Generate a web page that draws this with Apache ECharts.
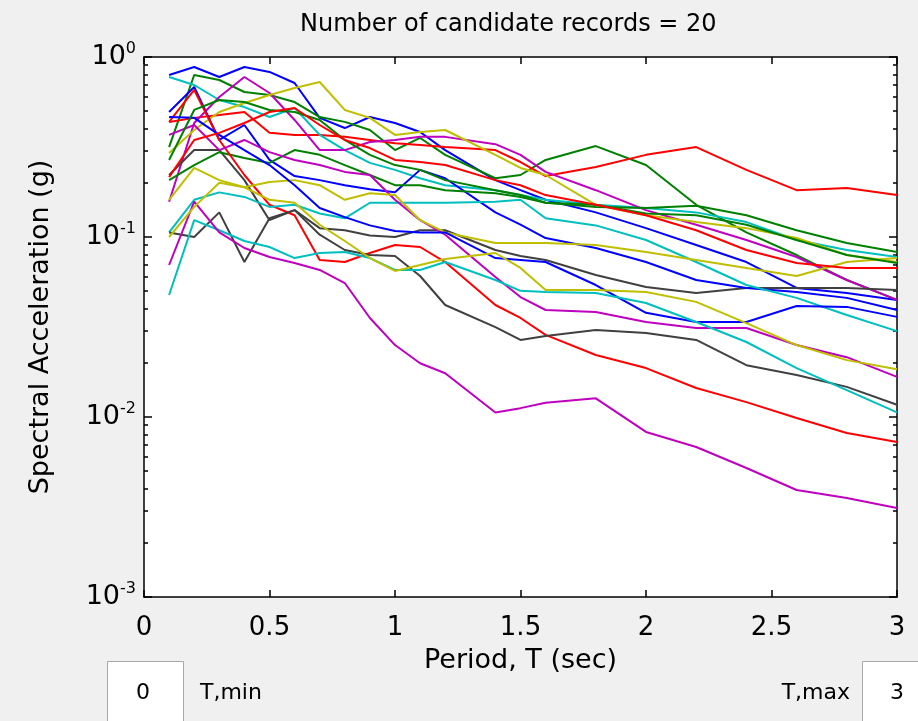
<!DOCTYPE html>
<html><head><meta charset="utf-8">
<script src="https://cdn.jsdelivr.net/npm/echarts@6/dist/echarts.min.js"></script>
<style>html,body{margin:0;padding:0;background:#f0f0f0;}#c{width:918px;height:721px;}</style>
</head><body><div id="c"></div>
<script>
// Periods (sec) at which each spectrum is sampled
const periods = [0.1,0.2,0.3,0.4,0.5,0.6,0.7,0.8,0.9,1.0,1.1,1.2,1.4,1.5,1.6,1.8,2.0,2.2,2.4,2.6,2.8,3.0];

// Spectral acceleration (g) of the 20 candidate records
const rec01 = [.794,.880,.774,.880,.826,.717,.459,.403,.464,.430,.383,.304,.207,.182,.161,.137,.112,.0903,.0726,.0521,.0488,.0447];
const rec02 = [.316,.794,.745,.639,.615,.562,.464,.436,.393,.304,.355,.286,.212,.221,.268,.320,.251,.151,.106,.0794,.0577,.0447];
const rec03 = [.436,.459,.476,.495,.379,.369,.369,.360,.346,.332,.324,.316,.304,.261,.218,.245,.286,.316,.236,.182,.187,.171];
const rec04 = [.774,.699,.577,.527,.464,.521,.369,.304,.258,.236,.212,.194,.182,.171,.161,.151,.145,.137,.121,.0962,.0847,.0774];
const rec05 = [.157,.430,.599,.774,.631,.447,.304,.304,.337,.346,.360,.360,.328,.286,.230,.182,.141,.117,.0962,.0774,.0577,.0447];
const rec06 = [.293,.393,.495,.555,.615,.673,.726,.508,.459,.369,.383,.393,.286,.242,.221,.151,.132,.121,.112,.0987,.0794,.0726];
const rec07 = [.221,.304,.304,.207,.124,.141,.112,.109,.102,.100,.109,.109,.0847,.0784,.0745,.0615,.0527,.0488,.0521,.0521,.0521,.0508];
const rec08 = [.495,.681,.346,.419,.268,.218,.207,.194,.184,.177,.236,.212,.137,.117,.0987,.0869,.0726,.0577,.0521,.0495,.0459,.0393];
const rec09 = [.207,.251,.296,.275,.258,.304,.286,.251,.221,.194,.194,.182,.175,.167,.155,.147,.145,.149,.132,.109,.0926,.0826];
const rec10 = [.436,.656,.346,.221,.151,.132,.0745,.0726,.0815,.0903,.0880,.0726,.0419,.0355,.0286,.0221,.0187,.0145,.0121,.00987,.00815,.00726];
const rec11 = [.106,.161,.177,.167,.147,.151,.135,.127,.155,.155,.155,.155,.157,.161,.127,.116,.0962,.0726,.0541,.0459,.0369,.0300];
const rec12 = [.369,.419,.304,.346,.296,.268,.251,.230,.221,.161,.124,.103,.0599,.0464,.0393,.0383,.0337,.0312,.0312,.0251,.0215,.0167];
const rec13 = [.161,.242,.207,.189,.202,.207,.194,.161,.175,.171,.124,.106,.0926,.0926,.0926,.0903,.0826,.0745,.0673,.0607,.0726,.0764];
const rec14 = [.106,.100,.137,.0726,.127,.141,.103,.0847,.0794,.0784,.0607,.0419,.0316,.0268,.0282,.0304,.0293,.0268,.0194,.0171,.0147,.0117];
const rec15 = [.464,.459,.369,.304,.251,.194,.145,.129,.116,.108,.106,.106,.0764,.0745,.0726,.0541,.0379,.0337,.0337,.0414,.0409,.0360];
const rec16 = [.268,.508,.577,.562,.508,.495,.447,.346,.286,.251,.236,.207,.182,.171,.155,.151,.135,.132,.117,.0962,.0794,.0717];
const rec17 = [.215,.346,.379,.430,.495,.521,.419,.346,.312,.268,.261,.251,.207,.194,.171,.151,.132,.109,.0847,.0717,.0673,.0673];
const rec18 = [.0476,.124,.109,.0950,.0880,.0764,.0815,.0826,.0764,.0656,.0656,.0726,.0577,.0502,.0495,.0488,.0430,.0337,.0261,.0187,.0141,.0106];
const rec19 = [.0699,.157,.106,.0869,.0774,.0717,.0656,.0555,.0355,.0251,.0199,.0175,.0106,.0112,.0120,.0127,.00826,.00681,.00521,.00393,.00355,.00312];
const rec20 = [.100,.147,.200,.189,.161,.155,.117,.0950,.0764,.0648,.0699,.0755,.0815,.0673,.0508,.0508,.0495,.0436,.0332,.0251,.0207,.0184];

const records = [rec01,rec02,rec03,rec04,rec05,rec06,rec07,rec08,rec09,rec10,rec11,rec12,rec13,rec14,rec15,rec16,rec17,rec18,rec19,rec20];

// MATLAB-style colour order b, g, r, c, m, y, k
const colorOrder = ['#0000ff','#008000','#ff0000','#00bfbf','#bf00bf','#bfbf00','#404040'];

// Axis ticks
const xTicks = [0, 0.5, 1, 1.5, 2, 2.5, 3];
const yMinorValues = [0.002,0.003,0.004,0.005,0.006,0.007,0.008,0.009,
                      0.02,0.03,0.04,0.05,0.06,0.07,0.08,0.09,
                      0.2,0.3,0.4,0.5,0.6,0.7,0.8,0.9];

const FONT = 'DejaVu Sans';
const chart = echarts.init(document.getElementById('c'), null, {renderer: 'canvas'});

const tickStyle = {color: '#000', width: 1.5};
const lineStyleAx = {color: '#000', width: 1.5};

const series = records.map((r, i) => ({
  type: 'line',
  xAxisIndex: 0, yAxisIndex: 0,
  data: periods.map((p, j) => [p, r[j]]),
  showSymbol: false,
  silent: true,
  animation: false,
  lineStyle: {color: colorOrder[i % colorOrder.length], width: 2},
  itemStyle: {color: colorOrder[i % colorOrder.length]},
  emphasis: {disabled: true}
}));

// minor-tick overlay axes work in exponent space, spanning the same -3..0 decades
const yMinorLog = yMinorValues.map(v => Math.log10(v));

chart.setOption({
  backgroundColor: '#f0f0f0',
  animation: false,
  title: {
    text: 'Number of candidate records = 20',
    left: 295, top: 8,
    textStyle: {fontFamily: FONT, fontSize: 24, fontWeight: 'normal', color: '#000'}
  },
  grid: {left: 144, right: 21, top: 57, bottom: 124, show: true, backgroundColor: '#fff', borderWidth: 0},
  xAxis: [
    {type: 'value', min: 0, max: 3, interval: 0.5, position: 'bottom',
     name: 'Period, T (sec)', nameLocation: 'middle', nameGap: 50,
     nameTextStyle: {fontFamily: FONT, fontSize: 27, color: '#000'},
     axisLine: {show: true, onZero: false, lineStyle: lineStyleAx},
     axisTick: {show: true, inside: true, length: 7, lineStyle: tickStyle},
     axisLabel: {show: true, fontFamily: FONT, fontSize: 26, color: '#000', margin: 18,
                 customValues: xTicks},
     splitLine: {show: false}},
    {type: 'value', min: 0, max: 3, interval: 0.5, position: 'top',
     axisLine: {show: true, onZero: false, lineStyle: lineStyleAx},
     axisTick: {show: true, inside: true, length: 7, lineStyle: tickStyle},
     axisLabel: {show: false}, splitLine: {show: false}}
  ],
  yAxis: [
    {type: 'log', logBase: 10, min: 0.001, max: 1, interval: 1, position: 'left',
     name: 'Spectral Acceleration (g)', nameLocation: 'middle', nameGap: 90,
     nameTextStyle: {fontFamily: FONT, fontSize: 27, color: '#000'},
     axisLine: {show: true, onZero: false, lineStyle: lineStyleAx},
     axisTick: {show: true, inside: true, length: 8, lineStyle: tickStyle},
     axisLabel: {show: true, margin: 8,
       formatter: v => '{a|10}{b|' + Math.round(Math.log10(v)) + '}',
       rich: {a: {fontFamily: FONT, fontSize: 27, color: '#000'},
              b: {fontFamily: FONT, fontSize: 16, color: '#000', padding: [0, 0, 16, 0]}}},
     splitLine: {show: false}},
    {type: 'log', logBase: 10, min: 0.001, max: 1, interval: 1, position: 'right',
     axisLine: {show: true, onZero: false, lineStyle: lineStyleAx},
     axisTick: {show: true, inside: true, length: 8, lineStyle: tickStyle},
     axisLabel: {show: false}, splitLine: {show: false}},
    {type: 'value', min: -3, max: 0, position: 'left',
     axisLine: {show: false, onZero: false},
     axisTick: {show: true, inside: true, length: 4, lineStyle: tickStyle, customValues: yMinorLog},
     axisLabel: {show: false}, splitLine: {show: false}},
    {type: 'value', min: -3, max: 0, position: 'right',
     axisLine: {show: false, onZero: false},
     axisTick: {show: true, inside: true, length: 4, lineStyle: tickStyle, customValues: yMinorLog},
     axisLabel: {show: false}, splitLine: {show: false}}
  ],
  graphic: [
    {type: 'rect', shape: {x: 107.5, y: 661.5, width: 76, height: 80}, style: {fill: '#fff', stroke: '#a8a8a8', lineWidth: 1}},
    {type: 'text', x: 143, y: 693, style: {text: '0', fontFamily: FONT, fontSize: 22, fill: '#000', textAlign: 'center', textVerticalAlign: 'middle'}},
    {type: 'text', x: 200, y: 693, style: {text: 'T,min', fontFamily: FONT, fontSize: 22, fill: '#000', textAlign: 'left', textVerticalAlign: 'middle'}},
    {type: 'text', x: 850, y: 693, style: {text: 'T,max', fontFamily: FONT, fontSize: 22, fill: '#000', textAlign: 'right', textVerticalAlign: 'middle'}},
    {type: 'rect', shape: {x: 862.5, y: 661.5, width: 80, height: 80}, style: {fill: '#fff', stroke: '#a8a8a8', lineWidth: 1}},
    {type: 'text', x: 897, y: 693, style: {text: '3', fontFamily: FONT, fontSize: 22, fill: '#000', textAlign: 'center', textVerticalAlign: 'middle'}}
  ],
  series: series
});
</script>
</body></html>
